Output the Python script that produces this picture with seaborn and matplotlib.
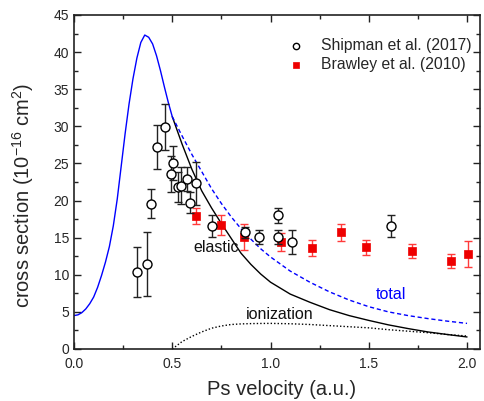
import matplotlib
matplotlib.use("Agg")
import matplotlib.pyplot as plt
import seaborn as sns
import pandas as pd
from matplotlib.ticker import MultipleLocator

# theory curves below the ionization threshold (elastic = total)
v_low = [0.00, 0.02, 0.04, 0.06, 0.08, 0.10, 0.12, 0.14, 0.16, 0.18, 0.20,
         0.22, 0.24, 0.26, 0.28, 0.30, 0.32, 0.34, 0.36, 0.38, 0.40, 0.42,
         0.44, 0.46, 0.48, 0.50]
cs_low = [4.5, 4.6, 4.9, 5.4, 6.1, 7.0, 8.3, 9.9, 11.7, 13.8, 16.6,
          20.2, 24.6, 29.0, 33.0, 36.4, 39.2, 41.3, 42.3, 42.0, 41.1, 39.5,
          37.5, 35.3, 33.2, 31.3]

# above threshold
v_high = [0.50, 0.55, 0.60, 0.65, 0.70, 0.75, 0.80, 0.85, 0.90, 0.95, 1.00,
          1.10, 1.20, 1.30, 1.40, 1.50, 1.60, 1.70, 1.80, 1.90, 2.00]
elastic = [31.3, 27.6, 24.2, 21.3, 19.0, 16.9, 14.9, 12.9, 11.4, 10.1, 9.0,
           7.4, 6.3, 5.3, 4.5, 3.85, 3.25, 2.75, 2.3, 1.95, 1.62]
total = [31.3, 28.7, 26.2, 23.9, 21.6, 19.6, 17.8, 16.2, 14.8, 13.5, 12.4,
         10.5, 9.0, 7.7, 6.6, 5.7, 5.0, 4.5, 4.1, 3.75, 3.45]
ionization = [0.0, 1.0, 1.7, 2.3, 2.8, 3.1, 3.3, 3.38, 3.42, 3.44, 3.45,
              3.4, 3.3, 3.15, 3.0, 2.85, 2.6, 2.4, 2.2, 1.95, 1.75]

# Shipman et al. (2017)
ship_v = [0.32, 0.372, 0.39, 0.42, 0.463, 0.494, 0.505, 0.527, 0.545, 0.573,
          0.59, 0.619, 0.70, 0.87, 0.94, 1.04, 1.04, 1.108, 1.613]
ship_cs = [10.4, 11.5, 19.6, 27.2, 29.9, 23.6, 25.1, 21.8, 22.0, 22.9,
           19.7, 22.3, 16.6, 15.7, 15.1, 18.0, 15.1, 14.4, 16.6]
ship_err = [3.4, 4.3, 2.0, 3.0, 3.1, 2.4, 2.3, 2.0, 2.5, 1.6,
            1.4, 2.9, 1.5, 0.7, 0.9, 1.05, 0.9, 1.65, 1.5]

# Brawley et al. (2010)
braw_v = [0.62, 0.748, 0.867, 1.053, 1.21, 1.357, 1.486, 1.719, 1.918, 2.007]
braw_cs = [17.9, 16.7, 15.1, 14.4, 13.6, 15.7, 13.7, 13.2, 11.8, 12.8]
braw_err = [1.1, 1.4, 1.8, 1.25, 1.1, 1.1, 1.0, 1.0, 0.95, 1.8]

sns.set_theme(style="ticks")
plt.rcParams['font.family'] = ['Liberation Sans', 'DejaVu Sans']
plt.rcParams['mathtext.default'] = 'regular'

df_low = pd.DataFrame({"v": v_low, "cs": cs_low})
df_high = pd.DataFrame({"v": v_high, "elastic": elastic, "total": total,
                        "ionization": ionization})
df_ship = pd.DataFrame({"v": ship_v, "cs": ship_cs, "err": ship_err})
df_braw = pd.DataFrame({"v": braw_v, "cs": braw_cs, "err": braw_err})

fig = plt.figure(figsize=(4.85, 4.01), dpi=100)
ax = fig.add_axes([0.1526, 0.1297, 0.8371, 0.8329])

# curves
sns.lineplot(data=df_high, x="v", y="elastic", color="black", lw=1.0, ax=ax)
sns.lineplot(data=df_high, x="v", y="total", color="blue", lw=1.0,
             linestyle=(0, (3, 2)), ax=ax)
sns.lineplot(data=df_high, x="v", y="ionization", color="black", lw=1.0,
             linestyle=(0, (1, 1.5)), ax=ax)
sns.lineplot(data=df_low, x="v", y="cs", color="blue", lw=1.0, ax=ax)

# measurements
ax.errorbar(df_braw["v"], df_braw["cs"], yerr=df_braw["err"], fmt="none",
            ecolor="#ff3b3b", elinewidth=1.0, capsize=3, capthick=1.0, zorder=3)
sns.scatterplot(data=df_braw, x="v", y="cs", marker="s", s=40, color="#ee0000",
                edgecolor="#ee0000", linewidth=0.5, zorder=4, ax=ax,
                label="Brawley et al. (2010)")
ax.errorbar(df_ship["v"], df_ship["cs"], yerr=df_ship["err"], fmt="none",
            ecolor="#222222", elinewidth=1.0, capsize=3, capthick=1.0, zorder=5)
sns.scatterplot(data=df_ship, x="v", y="cs", marker="o", s=42, facecolor="white",
                edgecolor="black", linewidth=1.0, zorder=6, ax=ax,
                label="Shipman et al. (2017)")

# labels on curves
ax.text(0.606, 13.7, "elastic", fontsize=11.5, va="center", color="#111111")
ax.text(1.537, 7.4, "total", fontsize=11.5, va="center", color="blue")
ax.text(0.874, 4.7, "ionization", fontsize=11.5, va="center", color="#111111")

ax.set_xlim(0, 2.066)
ax.set_ylim(0, 45)
ax.xaxis.set_major_locator(MultipleLocator(0.5))
ax.xaxis.set_minor_locator(MultipleLocator(0.25))
ax.yaxis.set_major_locator(MultipleLocator(5))
ax.yaxis.set_minor_locator(MultipleLocator(2.5))
ax.tick_params(which="both", top=True, right=True, direction="in",
               labelsize=10, width=1.0, color="#222222")
ax.tick_params(which="major", length=5)
ax.tick_params(which="minor", length=3)
ax.tick_params(axis="x", pad=6)
for sp in ax.spines.values():
    sp.set_linewidth(1.2)
    sp.set_color("#222222")

ax.set_xlabel("Ps velocity (a.u.)", fontsize=14.5)
ax.set_ylabel("cross section (10$^{-16}$ cm$^{2}$)", fontsize=14.5)
ax.xaxis.set_label_coords(0.51, -0.093)
ax.yaxis.set_label_coords(-0.094, 0.461)

h, l = ax.get_legend_handles_labels()
leg = ax.legend(h[::-1], l[::-1], loc="upper right", bbox_to_anchor=(1.013, 0.974),
                frameon=False, fontsize=11.3, handletextpad=1.0,
                labelspacing=0.25, markerscale=0.7, handlelength=1.2)

fig.savefig("out.png", dpi=100)
